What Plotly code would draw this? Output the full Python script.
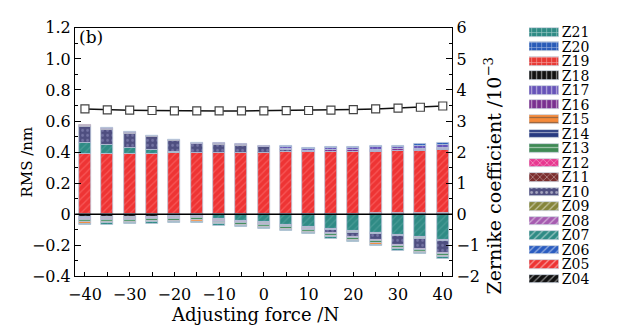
import plotly.graph_objects as go

# ---------------- data ----------------
force = [-40, -35, -30, -25, -20, -15, -10, -5, 0, 5, 10, 15, 20, 25, 30, 35, 40]
rms = [0.678, 0.672, 0.670, 0.668, 0.666, 0.665, 0.665, 0.665, 0.666,
       0.667, 0.668, 0.670, 0.674, 0.678, 0.683, 0.689, 0.697]

# Zernike coefficients (x10^-3)
Z04 = [-0.10, -0.09, -0.08, -0.07, -0.06, -0.04, -0.02, -0.01, 0.00, 0.01, 0.01, 0.02, 0.02, 0.03, 0.04, 0.05, 0.06]
Z05 = [1.96, 1.96, 1.96, 1.96, 1.97, 1.97, 1.97, 1.97, 1.98, 1.99, 1.99, 1.99, 1.99, 1.99, 1.99, 2.00, 2.01]
Z06 = [-0.01, -0.01, -0.01, -0.01, -0.01, -0.01, -0.01, -0.01, -0.01, -0.01, -0.01, -0.01, -0.01, -0.01, -0.01, -0.01, -0.01]
Z07 = [0.33, 0.26, 0.19, 0.11, 0.05, 0.00, -0.12, -0.19, -0.25, -0.33, -0.40, -0.45, -0.53, -0.58, -0.65, -0.73, -0.81]
Z08 = [-0.03, -0.03, -0.03, -0.03, -0.03, -0.03, -0.03, -0.03, -0.03, -0.03, -0.03, -0.03, -0.03, -0.03, -0.03, -0.03, -0.03]
Z09 = [-0.02, -0.02, -0.02, -0.02, -0.02, -0.02, -0.02, -0.02, -0.02, -0.02, -0.02, -0.02, -0.02, -0.02, -0.02, -0.02, -0.02]
Z10 = [0.52, 0.50, 0.45, 0.41, 0.34, 0.29, 0.27, 0.24, 0.18, 0.06, -0.02, -0.10, -0.13, -0.20, -0.28, -0.32, -0.37]
Z11 = [0.03, 0.03, 0.03, 0.03, 0.02, 0.02, 0.02, 0.015, 0.01, 0.01, 0.0, 0.0, 0.0, 0.0, 0.0, 0.0, 0.0]
Z12 = [-0.03, -0.03, -0.03, -0.03, -0.03, -0.03, -0.03, -0.03, -0.03, -0.03, -0.03, -0.03, -0.03, -0.03, -0.03, -0.03, -0.03]
Z13 = [-0.07, -0.07, -0.06, -0.06, -0.05, -0.06, -0.05, -0.05, -0.05, -0.05, -0.05, -0.05, -0.06, -0.06, -0.06, -0.06, -0.06]
Z14 = [0.0, 0.0, 0.0, 0.0, 0.0, 0.0, 0.0, 0.0, 0.0, 0.01, 0.01, 0.01, 0.01, 0.01, 0.01, 0.02, 0.02]
Z15 = [-0.04, -0.04, -0.04, -0.04, -0.04, -0.04, -0.04, -0.04, -0.04, -0.04, -0.04, -0.04, -0.04, -0.04, -0.04, -0.04, -0.04]
Z16 = [0.02, 0.02, 0.02, 0.02, 0.02, 0.025, 0.025, 0.03, 0.035, 0.04, 0.04, 0.04, 0.04, 0.05, 0.05, 0.05, 0.05]
Z17 = [0.0, 0.0, 0.0, 0.0, 0.0, 0.0, 0.0, 0.0, 0.0, 0.05, 0.06, 0.07, 0.07, 0.08, 0.08, 0.09, 0.10]
Z18 = [0.0, 0.0, 0.0, 0.0, 0.0, 0.0, 0.0, 0.0, 0.0, 0.0, 0.0, 0.0, 0.0, 0.0, 0.0, 0.0, 0.0]
Z19 = [0.005, 0.005, 0.005, 0.005, 0.005, 0.005, 0.0, 0.0, 0.0, 0.0, 0.0, 0.0, 0.0, 0.0, 0.0, 0.0, 0.0]
Z20 = [0.0, 0.0, 0.0, 0.0, 0.0, 0.0, 0.0, 0.0, 0.0, 0.02, 0.03, 0.03, 0.03, 0.04, 0.04, 0.05, 0.06]
Z21 = [-0.05, -0.05, -0.04, -0.04, -0.05, -0.05, -0.04, -0.04, -0.04, -0.04, -0.04, -0.05, -0.05, -0.05, -0.05, -0.05, -0.06]

terms = ["Z04", "Z05", "Z06", "Z07", "Z08", "Z09", "Z10", "Z11", "Z12",
         "Z13", "Z14", "Z15", "Z16", "Z17", "Z18", "Z19", "Z20", "Z21"]
series = [Z04, Z05, Z06, Z07, Z08, Z09, Z10, Z11, Z12,
          Z13, Z14, Z15, Z16, Z17, Z18, Z19, Z20, Z21]

rms_ticks = [1.2, 1.0, 0.8, 0.6, 0.4, 0.2, 0.0, -0.2, -0.4]
rms_ticktext = ["1.2", "1.0", "0.8", "0.6", "0.4", "0.2", "0", "\u22120.2", "\u22120.4"]

x_title = "Adjusting force /N"
y_title = "RMS /nm"
y2_title = "Zernike coefficient /10<sup>\u22123</sup>"
panel_label = "(b)"

# ---------------- styles ----------------
colors = ["#111111", "#ee3434", "#2a5cc0", "#2f8b85", "#a65cb0", "#85853a",
          "#4e4e80", "#7b2e2e", "#e83890", "#3f8a55", "#273a80", "#f58a3a",
          "#7a2f8f", "#6653b8", "#111111", "#e83a35", "#2a5cb8", "#2f8b85"]
fgcolors = ["#666666", "#ff7a7a", "#6a92e0", "#62aaa6", "#c894d0", "#aaaa70",
            "#9a9ac8", "#b06a6a", "#ff8ac4", "#78b48a", "#5e70b8", "#ffb27a",
            "#a86ab8", "#9a8ae0", "#666666", "#ff8080", "#6a92e0", "#62aaa6"]
shapes_pat = ["/", "/", "/", "/", "/", "/", ".", "x", "x", "-", "-", "-",
              "|", "|", "|", "+", "+", "+"]

FONT = "DejaVu Serif"
W, H = 617, 334
L, R, T, B = 69, 451, 20, 283.5

fig = go.Figure()

for name, vals, c, fc, sh in zip(terms, series, colors, fgcolors, shapes_pat):
    fig.add_trace(go.Bar(
        x=force, y=[v if v != 0 else None for v in vals], name=name,
        xaxis="x", yaxis="y2", width=2.7,
        marker=dict(color=c, line=dict(color="#b8c4d8", width=0.8),
                    pattern=dict(shape=sh, fgcolor=fc, fillmode="overlay",
                                 size=5, solidity=0.25)),
        showlegend=False))

fig.add_trace(go.Scatter(
    x=force, y=rms, mode="lines+markers", xaxis="x", yaxis="y",
    line=dict(color="#111111", width=1.6),
    marker=dict(symbol="square", size=8, color="white",
                line=dict(color="#444444", width=1.2)),
    showlegend=False))

# manual legend drawn as a small bar chart on its own axes
leg_terms = terms[::-1]
leg_colors = colors[::-1]
leg_fg = fgcolors[::-1]
leg_shapes = shapes_pat[::-1]
fig.add_trace(go.Bar(
    y=leg_terms, x=[1] * len(leg_terms), orientation="h", xaxis="x3", yaxis="y3",
    width=0.6,
    marker=dict(color=leg_colors, line=dict(color="#c8d0dc", width=0.8),
                pattern=dict(shape=leg_shapes, fgcolor=leg_fg, fillmode="overlay",
                             size=5, solidity=0.25)),
    showlegend=False, hoverinfo="skip"))

axis_common = dict(showline=True, linecolor="black", linewidth=1.2,
                   ticks="inside", tickcolor="black", showgrid=False,
                   zeroline=False, tickfont=dict(family=FONT, size=16, color="black"))

fig.update_layout(
    width=W, height=H,
    margin=dict(l=0, r=0, t=0, b=0),
    paper_bgcolor="white", plot_bgcolor="white",
    barmode="relative", bargap=0,
    showlegend=False,
    font=dict(family=FONT, color="black"),
    xaxis=dict(**axis_common, domain=[L / W, R / W], range=[-42.2, 42.1],
               tick0=0, dtick=10, ticklen=4, mirror=True, ticklabelstandoff=3,
               minor=dict(dtick=5, ticklen=4, ticks="inside", tickcolor="black"),
               anchor="y"),
    yaxis=dict(**axis_common, domain=[(H - B) / H, (H - T) / H], range=[-0.4, 1.2],
               tickvals=rms_ticks, ticktext=rms_ticktext, ticklen=6,
               minor=dict(dtick=0.1, ticklen=3, ticks="inside", tickcolor="black"),
               anchor="x"),
    yaxis2=dict(**axis_common, overlaying="y", side="right", anchor="x",
                range=[-2, 6], dtick=1, ticklen=6,
                minor=dict(dtick=0.5, ticklen=3, ticks="inside", tickcolor="black")),
    xaxis3=dict(domain=[529 / W, 559 / W], range=[0, 1], visible=False,
                anchor="y3", fixedrange=True),
    yaxis3=dict(domain=[(H - 294) / H, (H - 17) / H], anchor="x3", side="right",
                autorange="reversed", type="category", showline=False,
                tickmode="array", tickvals=leg_terms, ticktext=leg_terms,
                showgrid=False, zeroline=False, ticks="", ticklabelstandoff=2,
                tickfont=dict(family=FONT, size=14, color="black"), fixedrange=True),
    shapes=[dict(type="line", xref="x", yref="y", x0=-42.2, x1=42.1, y0=0, y1=0,
                 line=dict(color="black", width=1.5), layer="above")],
    annotations=[
        dict(text=panel_label, xref="x domain", yref="y domain", x=0.005, y=1.0,
             xanchor="left", yanchor="top", yshift=3, showarrow=False,
             font=dict(family=FONT, size=17, color="black")),
        dict(text=x_title, xref="paper", yref="paper", x=251 / W, y=(H - 324) / H,
             xanchor="center", yanchor="middle", showarrow=False,
             font=dict(family=FONT, size=18, color="black")),
        dict(text=y_title, xref="paper", yref="paper", x=20 / W, y=(H - 162) / H,
             xanchor="center", yanchor="middle", showarrow=False, textangle=-90,
             font=dict(family=FONT, size=15, color="black")),
        dict(text=y2_title, xref="paper", yref="paper", x=492 / W, y=(H - 177) / H,
             xanchor="center", yanchor="middle", showarrow=False, textangle=-90,
             font=dict(family=FONT, size=19, color="black")),
    ],
)

fig.write_html("out.html")
